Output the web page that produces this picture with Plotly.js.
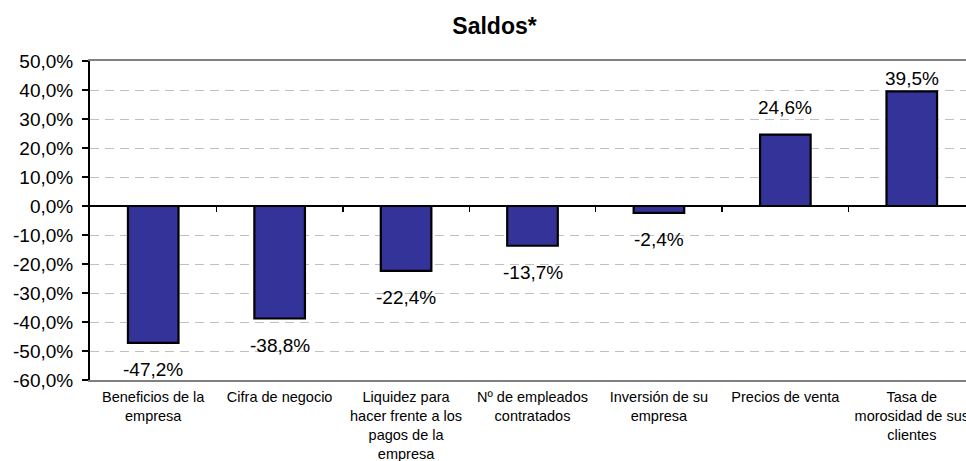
<!DOCTYPE html>
<html>
<head>
<meta charset="utf-8">
<script src="https://cdn.plot.ly/plotly-3.0.1.min.js"></script>
<style>
  html, body { margin: 0; padding: 0; overflow: hidden; background: #fff; }
  #chart { width: 980px; height: 461px; }
</style>
</head>
<body>
<div id="chart"></div>
<script>
// ---- data ----
const categories = [
  "Beneficios de la<br>empresa",
  "Cifra de negocio",
  "Liquidez para<br>hacer frente a los<br>pagos de la<br>empresa",
  "Nº de empleados<br>contratados",
  "Inversión de su<br>empresa",
  "Precios de venta",
  "Tasa de<br>morosidad de sus<br>clientes"
];
const saldos = [-47.2, -38.8, -22.4, -13.7, -2.4, 24.6, 39.5];
const yTickVals = [-60, -50, -40, -30, -20, -10, 0, 10, 20, 30, 40, 50];
const titleText = "Saldos*";

// ---- layout constants ----
const W = 980, H = 461;
const M = { l: 90, r: 5, t: 61, b: 81 };
const yMin = -60, yMax = 50;
const font = "Liberation Sans, Arial, sans-serif";

const fmt = v => v.toFixed(1).replace('.', ',') + '%';
const xIdx = categories.map((_, i) => i);

const plotH = H - M.t - M.b;
const pxPerUnit = plotH / (yMax - yMin);
const offset = 27;

const annotations = saldos.map((v, i) => {
  let yshift = v >= 0 ? offset : -offset;
  let yanchor = 'middle';
  // keep label inside plot area
  const centerPx = (yMax - v) * pxPerUnit - yshift; // from top
  if (v >= 0 && centerPx < 14) { yshift = 0; yanchor = 'bottom'; }
  return {
    x: i, y: v, xref: 'x', yref: 'y',
    text: fmt(v), showarrow: false,
    yanchor: yanchor, yshift: yshift,
    font: { family: font, size: 19, color: '#000' }
  };
});

const trace = {
  type: 'bar',
  x: xIdx,
  y: saldos,
  marker: { color: '#333399', line: { color: '#000', width: 2.2 } },
  hoverinfo: 'skip'
};

const dummy = {
  type: 'scatter', x: [0], y: [0], xaxis: 'x2', yaxis: 'y',
  mode: 'markers', marker: { opacity: 0 }, hoverinfo: 'skip', showlegend: false
};

const boundaries = categories.slice(1).map((_, i) => i + 0.5);

const layout = {
  width: W, height: H,
  margin: M,
  paper_bgcolor: '#fff', plot_bgcolor: '#fff',
  showlegend: false,
  separators: ', ',
  bargap: 0.6,
  title: {
    text: '<b>' + titleText + '</b>',
    font: { family: font, size: 23, color: '#000' },
    xref: 'container', x: 494.5 / W, xanchor: 'center',
    yref: 'container', y: 1 - 26 / H, yanchor: 'middle'
  },
  xaxis: {
    type: 'linear',
    range: [-0.5, categories.length - 0.5],
    tickvals: xIdx, ticktext: categories,
    ticks: '', showgrid: false, zeroline: false,
    showline: true, linecolor: '#808080', linewidth: 2, mirror: true,
    tickfont: { family: font, size: 14.5, color: '#000' },
    ticklabelstandoff: 3,
    fixedrange: true
  },
  xaxis2: {
    overlaying: 'x', anchor: 'free',
    position: (0 - yMin) / (yMax - yMin),
    side: 'bottom',
    range: [-0.5, categories.length - 0.5],
    tickvals: boundaries, ticks: 'outside', ticklen: 5, tickwidth: 1.5,
    tickcolor: '#000', showticklabels: false,
    showline: false, showgrid: false, zeroline: false
  },
  yaxis: {
    range: [yMin, yMax],
    tickvals: yTickVals,
    ticktext: yTickVals.map(fmt),
    ticks: 'outside', ticklen: 6, tickwidth: 1.5, tickcolor: '#000',
    ticklabelstandoff: 5,
    showline: true, linecolor: '#000', linewidth: 2,
    showgrid: true, gridcolor: '#c0c0c0', gridwidth: 1, griddash: '9px,6px',
    zeroline: true, zerolinecolor: '#000', zerolinewidth: 1.5,
    tickfont: { family: font, size: 19, color: '#000' },
    fixedrange: true
  },
  annotations: annotations
};

Plotly.newPlot('chart', [trace, dummy], layout, { displayModeBar: false, staticPlot: true });
</script>
</body>
</html>
